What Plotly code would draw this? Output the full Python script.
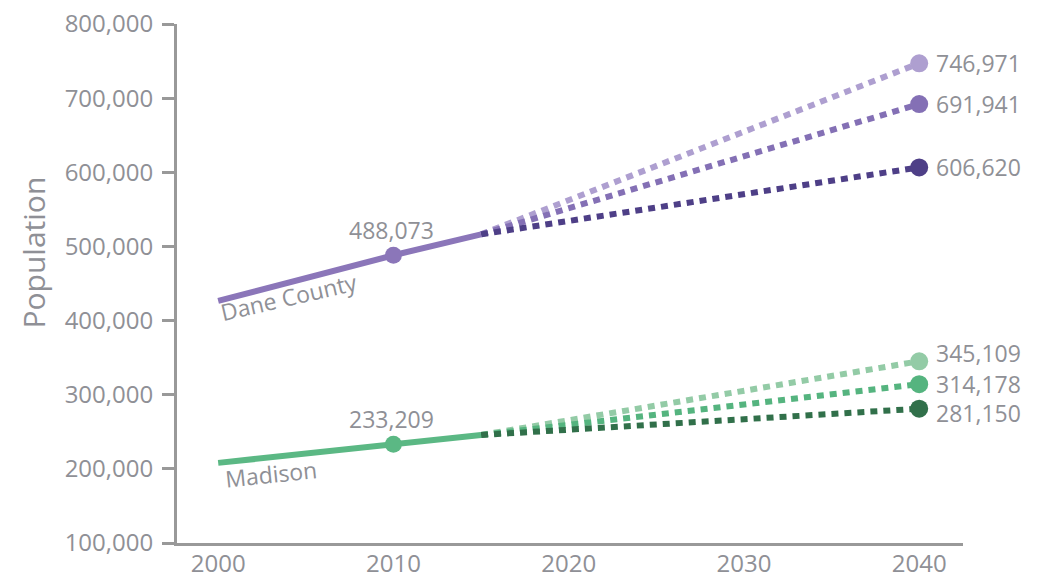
import numpy as np
import plotly.graph_objects as go

# ---- data ----
hist_years = [2000, 2010, 2015]
dane_hist = [426526, 488073, 516284]
madison_hist = [208054, 233209, 245700]

proj_years = [2015, 2040]
dane_proj_high = [516284, 746971]
dane_proj_mid = [516284, 691941]
dane_proj_low = [516284, 606620]
madison_proj_high = [245700, 345109]
madison_proj_mid = [245700, 314178]
madison_proj_low = [245700, 281150]

y_ticks = [100000, 200000, 300000, 400000, 500000, 600000, 700000, 800000]
x_ticks = [2000, 2010, 2020, 2030, 2040]

# ---- styles ----
FONT = "Open Sans"
GRAY = "#8f9096"
AXIS = "#999999"
dane_solid = "#8b76b9"
dane_cols = ["#ae9fd0", "#8470b5", "#4e3f87"]
mad_solid = "#5bb884"
mad_cols = ["#93cba6", "#55b47f", "#31704a"]

fig = go.Figure()

def add_proj(vals, col):
    fig.add_trace(go.Scatter(x=proj_years, y=vals, mode="lines",
                             line=dict(color=col, width=6, dash="7px,6px"),
                             hoverinfo="skip", showlegend=False))
    fig.add_trace(go.Scatter(x=[proj_years[-1]], y=[vals[-1]], mode="markers",
                             marker=dict(color=col, size=18),
                             hoverinfo="skip", showlegend=False))

for vals, col in zip([dane_proj_high, dane_proj_mid, dane_proj_low], dane_cols):
    add_proj(vals, col)
for vals, col in zip([madison_proj_high, madison_proj_mid, madison_proj_low], mad_cols):
    add_proj(vals, col)

for vals, col in [(dane_hist, dane_solid), (madison_hist, mad_solid)]:
    fig.add_trace(go.Scatter(x=hist_years, y=vals, mode="lines",
                             line=dict(color=col, width=6),
                             hoverinfo="skip", showlegend=False))
    fig.add_trace(go.Scatter(x=[hist_years[1]], y=[vals[1]], mode="markers",
                             marker=dict(color=col, size=17),
                             hoverinfo="skip", showlegend=False))

ann = []
lab_font = dict(family=FONT, size=23, color=GRAY)
# 2010 value labels
for vals in [dane_hist, madison_hist]:
    ann.append(dict(x=hist_years[1], y=vals[1], text=f"{vals[1]:,}", showarrow=False,
                    yshift=25, xshift=-2, font=lab_font))
# 2040 end labels (small vertical nudges as in the reference)
end_sets = [(dane_proj_high, 0), (dane_proj_mid, 0), (dane_proj_low, 0),
            (madison_proj_high, 8), (madison_proj_mid, 0), (madison_proj_low, -4)]
for vals, dy in end_sets:
    ann.append(dict(x=proj_years[-1], y=vals[-1], text=f"{vals[-1]:,}", showarrow=False,
                    xanchor="left", xshift=15, yshift=dy, font=lab_font))
# series name labels along lines
ann.append(dict(x=2004, y=float(np.interp(2004, hist_years, dane_hist)), text="Dane County",
                showarrow=False, textangle=-13, yshift=-14, font=dict(family=FONT, size=23, color=GRAY)))
ann.append(dict(x=2003, y=float(np.interp(2003, hist_years, madison_hist)), text="Madison",
                showarrow=False, textangle=-6, yshift=-17, font=dict(family=FONT, size=23, color=GRAY)))
# y-axis title
ann.append(dict(xref="paper", yref="paper", x=-0.183, y=0.56, text="Population",
                xanchor="center", yanchor="middle",
                showarrow=False, textangle=-90, font=dict(family=FONT, size=30, color=GRAY)))

fig.update_layout(
    width=1046, height=580,
    margin=dict(l=177, r=83, t=24, b=37),
    paper_bgcolor="white", plot_bgcolor="white",
    annotations=ann,
    xaxis=dict(range=[1997.65, 2042.5], tickvals=x_ticks, showgrid=False, zeroline=False,
               showline=True, linecolor=AXIS, linewidth=3, ticks="", automargin=False,
               ticklabeloverflow="allow", ticklabelstandoff=-3,
               tickfont=dict(family=FONT, size=24, color=GRAY)),
    yaxis=dict(range=[100000, 800000], tickvals=y_ticks,
               ticktext=[f"{v:,}" for v in y_ticks], showgrid=False, zeroline=False,
               showline=True, linecolor=AXIS, linewidth=3, ticks="outside", ticklen=12,
               tickwidth=3, tickcolor=AXIS, automargin=False, ticklabelstandoff=4,
               ticklabeloverflow="allow",
               tickfont=dict(family=FONT, size=24, color=GRAY)),
)

# remove the browser's default 8px page margin so the figure fills the window exactly
fig.write_html("out.html",
               config={"displayModeBar": False},
               post_script="document.body.style.margin='0';document.body.style.overflow='hidden';")
